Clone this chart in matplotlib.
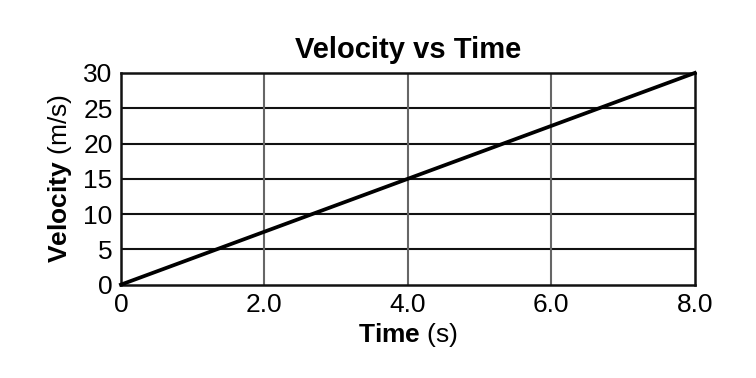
import matplotlib
matplotlib.use("Agg")
import matplotlib.pyplot as plt

time = [0.0, 8.0]
velocity = [0.0, 30.0]
xticks = [0, 2, 4, 6, 8]
xtick_labels = ["0", "2.0", "4.0", "6.0", "8.0"]
yticks = [0, 5, 10, 15, 20, 25, 30]
ytick_labels = ["0", "5", "10", "15", "20", "25", "30"]

plt.rcParams['font.family'] = ['Liberation Sans', 'DejaVu Sans']
plt.rcParams['mathtext.fontset'] = 'custom'
plt.rcParams['mathtext.rm'] = 'Liberation Sans'
plt.rcParams['mathtext.bf'] = 'Liberation Sans:bold'

fig = plt.figure(figsize=(7.56, 3.78), dpi=100)
ax = fig.add_axes([0.160, 0.247, 0.759, 0.560])

ax.set_xlim(0, 8)
ax.set_ylim(0, 30)
ax.set_xticks(xticks)
ax.set_xticklabels(xtick_labels)
ax.set_yticks(yticks)
ax.set_yticklabels(ytick_labels)

for y in yticks[1:-1]:
    ax.axhline(y, color='#111111', lw=1.5, zorder=1)
for x in xticks[1:-1]:
    ax.axvline(x, color='#666666', lw=1.5, zorder=1)

ax.plot(time, velocity, color='black', lw=2.7, zorder=3, clip_on=False)

for s in ax.spines.values():
    s.set_linewidth(1.8)
    s.set_color('#111111')

ax.tick_params(length=0, labelsize=19, pad=6)
ax.tick_params(axis='y', pad=6)

ax.set_title("Velocity vs Time", fontsize=21, fontweight='bold', pad=11)
ax.set_xlabel(r"$\bf{Time}$ (s)", fontsize=19, labelpad=3)
ax.set_ylabel(r"$\bf{Velocity}$ (m/s)", fontsize=19, labelpad=7)

fig.savefig("out.png", dpi=100)
